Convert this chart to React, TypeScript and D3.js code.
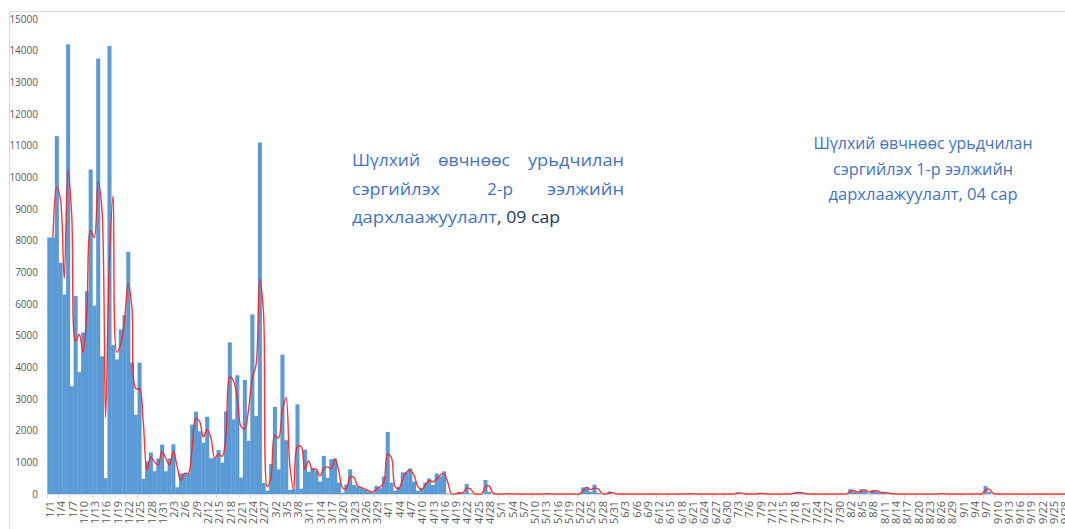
import { useEffect, useRef } from "react";
import * as d3 from "d3";

// Өдөр тутмын тоо, сараар
const jan = [
  8100, 8100, 11300, 7300, 6300, 14200, 3400, 6250, 3850, 5100,
  6400, 10250, 5950, 13750, 4350, 500, 14150, 4700, 4250, 5200,
  5650, 7650, 4150, 2500, 4150, 480, 1030, 1310, 720, 1120, 1560,
];
const feb = [
  720, 1120, 1570, 210, 650, 650, 650, 2190, 2600, 1980,
  1620, 2440, 1130, 1130, 1390, 990, 2610, 4790, 2360, 3750,
  515, 3600, 1680, 5670, 2460, 11100, 350, 105,
];
const mar = [
  950, 2750, 780, 4400, 1700, 130, 150, 2830, 170, 1400,
  700, 830, 740, 390, 1200, 515, 1100, 1115, 360, 40,
  300, 780, 285, 230, 180, 125, 75, 40, 260, 180, 550,
];
const apr = [
  1960, 360, 105, 230, 685, 685, 810, 390, 105, 180,
  360, 490, 280, 650, 560, 715, 20, 0, 0, 60,
  30, 320, 20, 0, 0, 0, 440, 70, 0, 0,
];
const may = [
  0, 0, 20, 0, 0, 0, 0, 0, 0, 0,
  0, 0, 15, 0, 0, 0, 0, 0, 0, 0,
  0, 0, 210, 210, 70, 295, 40, 0, 0, 80, 0,
];
const jun = [
  0, 0, 0, 0, 0, 0, 0, 0, 0, 0,
  0, 0, 0, 0, 0, 0, 0, 0, 0, 15,
  0, 0, 0, 0, 0, 0, 0, 0, 0, 0,
];
const jul = [
  0, 0, 50, 20, 0, 0, 0, 0, 30, 0,
  0, 0, 0, 0, 0, 0, 0, 40, 60, 30,
  0, 0, 0, 0, 0, 0, 0, 0, 0, 0, 0,
];
const aug = [
  0, 150, 75, 40, 150, 105, 20, 130, 75, 40,
  50, 20, 10, 0, 0, 0, 0, 0, 0, 0,
  0, 0, 0, 0, 0, 20, 0, 0, 0, 0, 0,
];
const sep = [
  0, 0, 0, 0, 0, 0, 250, 60, 0, 0,
  0, 0, 0, 0, 0, 0, 0, 0, 0, 0,
  0, 0, 0, 0, 0, 0, 0, 0, 0, 0,
];

const dailyCases = [jan, feb, mar, apr, may, jun, jul, aug, sep].flat();
const dateLabels = dailyCases.map((_, i) => {
  const d = d3.timeDay.offset(new Date(2021, 0, 1), i);
  return `${d.getMonth() + 1}/${d.getDate()}`;
});
const yTicks = d3.range(0, 15001, 1000);

// 2 өдрийн хөдөлгөөнт дундаж
const movingAvg = dailyCases.map((v, i) =>
  i === 0 ? null : (dailyCases[i - 1] + v) / 2
);

const note1 = [
  ["Шүлхий", "өвчнөөс", "урьдчилан"],
  ["сэргийлэх", "2-р", "ээлжийн"],
  ["дархлаажуулалт", ", 09 сар"],
];
const note2 = [
  "Шүлхий өвчнөөс урьдчилан",
  "сэргийлэх 1-р ээлжийн",
  "дархлаажуулалт, 04 сар",
];

const W = 1065;
const H = 529;

export default function App() {
  const ref = useRef<SVGSVGElement>(null);

  useEffect(() => {
    if (!ref.current) return;
    const svg = d3.select(ref.current);
    svg.selectAll("*").remove();

    const left = 47.3;
    const step = 3.76;
    const font = "'Open Sans', 'Noto Sans', sans-serif";

    const x = d3
      .scaleBand<string>()
      .domain(dateLabels)
      .range([left, left + step * dateLabels.length])
      .padding(0);
    const y = d3.scaleLinear().domain([0, 15000]).range([494, 19]);

    svg.append("rect").attr("width", W).attr("height", H).attr("fill", "#fff");

    // рамка
    svg
      .append("path")
      .attr("d", `M9.5,${H} V11.5 H${W}`)
      .attr("fill", "none")
      .attr("stroke", "#d9d9d9")
      .attr("stroke-width", 1);

    // тэнхлэг
    svg
      .append("line")
      .attr("x1", left)
      .attr("x2", W)
      .attr("y1", y(0) + 0.5)
      .attr("y2", y(0) + 0.5)
      .attr("stroke", "#d9d9d9");

    svg
      .append("g")
      .selectAll("line")
      .data(d3.range(0, dateLabels.length + 1, 3))
      .join("line")
      .attr("x1", (j) => left + j * x.step())
      .attr("x2", (j) => left + j * x.step())
      .attr("y1", y(0))
      .attr("y2", y(0) + 4)
      .attr("stroke", "#d9d9d9");

    // багана
    svg
      .append("g")
      .selectAll("rect")
      .data(dailyCases)
      .join("rect")
      .attr("x", (_, i) => x(dateLabels[i])!)
      .attr("y", (d) => y(d))
      .attr("width", x.bandwidth() + 0.3)
      .attr("height", (d) => y(0) - y(d))
      .attr("fill", "#5B9BD5");

    // хөдөлгөөнт дундаж
    const line = d3
      .line<number | null>()
      .defined((d) => d !== null)
      .x((_, i) => x(dateLabels[i])! + x.bandwidth() / 2)
      .y((d) => y(d as number))
      .curve(d3.curveCatmullRom.alpha(0.5));

    svg
      .append("path")
      .datum(movingAvg)
      .attr("d", line)
      .attr("fill", "none")
      .attr("stroke", "#ff1f1f")
      .attr("stroke-width", 1.4)
      .attr("stroke-opacity", 0.9);

    // Y тэнхлэгийн шошго
    svg
      .append("g")
      .selectAll("text")
      .data(yTicks)
      .join("text")
      .attr("x", 38)
      .attr("y", (d) => y(d))
      .attr("dy", "0.35em")
      .attr("text-anchor", "end")
      .style("font-family", font)
      .style("font-size", "10px")
      .style("fill", "#595959")
      .text((d) => d);

    // X тэнхлэгийн шошго
    svg
      .append("g")
      .selectAll("text")
      .data(dateLabels.filter((_, i) => i % 3 === 0))
      .join("text")
      .attr("transform", (d) => {
        const cx = x(d)! + x.bandwidth() / 2 + 1;
        return `translate(${cx},501) rotate(-90)`;
      })
      .attr("dy", "0.35em")
      .attr("text-anchor", "end")
      .style("font-family", font)
      .style("font-size", "11px")
      .style("fill", "#595959")
      .text((d) => d);

    // тайлбар 1 (тэгшилсэн мөр)
    const n1 = svg.append("g").style("font-family", font).style("font-size", "17px");
    const n1Layout = [
      { y: 166, spans: [[352, 420], [438, 510], [528, 624]] },
      { y: 195, spans: [[352, 440], [487, 513], [547, 624]] },
      { y: 223, spans: [[352, 497], [497, 560]] },
    ];
    note1.forEach((words, li) => {
      words.forEach((w, wi) => {
        const [a, b] = n1Layout[li].spans[wi];
        n1.append("text")
          .attr("x", a)
          .attr("y", n1Layout[li].y)
          .attr("textLength", b - a)
          .attr("lengthAdjust", "spacingAndGlyphs")
          .style("fill", li === 2 && wi === 1 ? "#203864" : "#4472C4")
          .text(w);
      });
    });

    // тайлбар 2
    const n2Layout = [
      { y: 149, w: 219 },
      { y: 175, w: 180 },
      { y: 200, w: 189 },
    ];
    svg
      .append("g")
      .selectAll("text")
      .data(note2)
      .join("text")
      .attr("x", 923)
      .attr("y", (_, i) => n2Layout[i].y)
      .attr("text-anchor", "middle")
      .attr("textLength", (_, i) => n2Layout[i].w)
      .attr("lengthAdjust", "spacingAndGlyphs")
      .style("font-family", font)
      .style("font-size", "15.5px")
      .style("fill", "#4472C4")
      .text((d) => d);
  }, []);

  return (
    <svg
      ref={ref}
      width={W}
      height={H}
      style={{ position: "absolute", left: 0, top: 0, display: "block" }}
    />
  );
}
